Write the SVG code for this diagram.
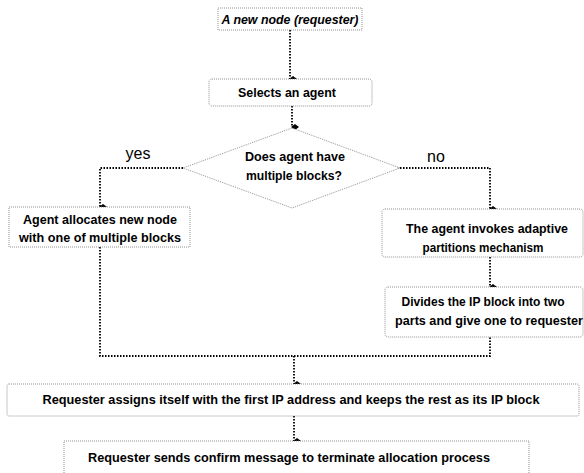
<svg xmlns="http://www.w3.org/2000/svg" width="584" height="473" viewBox="0 0 584 473">
<defs>
<style>
.box{fill:#fff;stroke:#777;stroke-width:0.8;stroke-dasharray:1 1}
.t{font-family:"Liberation Sans",Arial,sans-serif;font-size:12.5px;font-weight:bold;fill:#000;text-anchor:middle}
.lbl{font-family:"Liberation Sans",Arial,sans-serif;font-size:16px;fill:#000;text-anchor:middle}
.c{fill:none;stroke:#000;stroke-width:1.8;stroke-dasharray:1.5 1.5}
</style>
<marker id="ah" viewBox="0 0 8 10" refX="4" refY="9" markerWidth="8" markerHeight="10" markerUnits="userSpaceOnUse" orient="auto-start-reverse">
<path d="M4 2 L7 6 L4 10 L1 6 Z" fill="#000"/>
</marker>
</defs>
<rect width="584" height="473" fill="#fff"/>
<g id="connectors">
<path class="c" d="M290 30 V79" marker-end="url(#ah)"/>
<path class="c" d="M292 106 V127" marker-end="url(#ah)"/>
<path class="c" d="M183 168 H100 V207" marker-end="url(#ah)"/>
<path class="c" d="M397 168 H490 V209" marker-end="url(#ah)"/>
<path class="c" d="M490 257 V287" marker-end="url(#ah)"/>
<path class="c" d="M100 247 V356 H490 V337"/>
<path class="c" d="M294 356 V384" marker-end="url(#ah)"/>
<path class="c" d="M294 416 V441" marker-end="url(#ah)"/>
</g>
<g id="n1"><rect class="box" x="218" y="8" width="144" height="22"/><text class="t" x="290" y="24" font-style="italic" textLength="137" lengthAdjust="spacingAndGlyphs">A new node (requester)</text></g>
<g id="n2"><rect class="box" x="209" y="79" width="163" height="27" rx="3"/><text class="t" x="287" y="97" textLength="98" lengthAdjust="spacingAndGlyphs">Selects an agent</text></g>
<g id="n3"><polygon class="box" points="292,128 400,168 292,208 183,168"/><text class="t" x="295" y="161" textLength="100" lengthAdjust="spacingAndGlyphs">Does agent have</text><text class="t" x="294" y="180" textLength="96" lengthAdjust="spacingAndGlyphs">multiple blocks?</text></g>
<text class="lbl" x="138" y="159">yes</text>
<text class="lbl" x="436" y="162">no</text>
<g id="n4"><rect class="box" x="9" y="207" width="181" height="40"/><text class="t" x="100" y="224" textLength="154" lengthAdjust="spacingAndGlyphs">Agent allocates new node</text><text class="t" x="100" y="242" textLength="162" lengthAdjust="spacingAndGlyphs">with one of multiple blocks</text></g>
<g id="n5"><rect class="box" x="382" y="209" width="201" height="48" rx="3"/><text class="t" x="487" y="233" textLength="162" lengthAdjust="spacingAndGlyphs">The agent invokes adaptive</text><text class="t" x="483" y="252" textLength="121" lengthAdjust="spacingAndGlyphs">partitions mechanism</text></g>
<g id="n6"><rect class="box" x="385" y="287" width="198" height="50" rx="3"/><text class="t" x="483" y="306" textLength="163" lengthAdjust="spacingAndGlyphs">Divides the IP block into two</text><text class="t" x="489" y="325" textLength="188" lengthAdjust="spacingAndGlyphs">parts and give one to requester</text></g>
<g id="n7"><rect class="box" x="7" y="384" width="572" height="32" rx="2"/><text class="t" x="291" y="404" textLength="497" lengthAdjust="spacingAndGlyphs">Requester assigns itself with the first IP address and keeps the rest as its IP block</text></g>
<g id="n8"><rect class="box" x="64" y="441" width="465" height="40"/><text class="t" x="289" y="462" textLength="402" lengthAdjust="spacingAndGlyphs">Requester sends confirm message to terminate allocation process</text></g>
</svg>
